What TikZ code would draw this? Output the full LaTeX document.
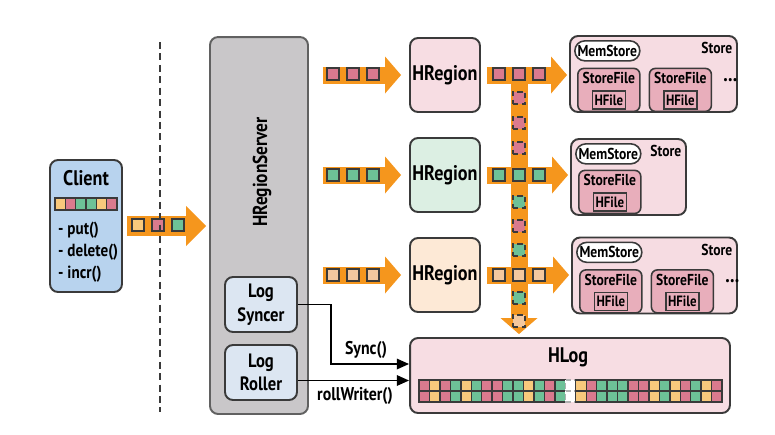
\documentclass[tikz,border=0pt]{standalone}
\usepackage{fontspec}
\setmainfont{PT Sans}[FakeStretch=0.86]
\usetikzlibrary{positioning,arrows.meta}

\definecolor{flow}{HTML}{F5961D}
\definecolor{edge}{HTML}{3A3A3A}
\definecolor{srvFill}{HTML}{C9C7C9}
\definecolor{cliFill}{HTML}{B8D3EE}
\definecolor{logFill}{HTML}{DCE6F2}
\definecolor{regP}{HTML}{F7DDE3}
\definecolor{regG}{HTML}{DCEFE3}
\definecolor{regO}{HTML}{FDE9D6}
\definecolor{stFill}{HTML}{F6DCE2}
\definecolor{sfFill}{HTML}{E8AEBB}
\definecolor{sqP}{HTML}{DA7A8E}
\definecolor{sqY}{HTML}{F8C97C}
\definecolor{sqG}{HTML}{6DC197}
\definecolor{sqO}{HTML}{F4C89E}

\tikzset{
  title/.style={font=\bfseries\fontsize{12}{14}\selectfont},
  small/.style={font=\bfseries\fontsize{9}{10}\selectfont},
  box/.style={draw=edge, line width=1.1pt, rounded corners=0.16cm, inner sep=0pt},
  server/.style={box, draw=edge!80, fill=srvFill, minimum width=1.96cm, minimum height=7.54cm},
  clientbox/.style={box, fill=cliFill, minimum width=1.44cm, minimum height=2.64cm},
  logbox/.style={box, fill=logFill, minimum width=1.44cm, minimum height=1.1cm,
    align=center, font=\bfseries\fontsize{11}{13.5}\selectfont},
  region/.style={box, minimum width=1.4cm, minimum height=1.48cm, title},
  store/.style={box, fill=stFill, minimum height=1.52cm,
    label={[anchor=north east, inner sep=0pt, xshift=-3pt, yshift=-4pt, small]north east:Store}},
  mem/.style={box, fill=white, rounded corners=0.2cm, line width=0.9pt,
    minimum width=1.3cm, minimum height=0.4cm, small},
  sfile/.style={box, fill=sfFill, line width=0.9pt, rounded corners=0.12cm,
    minimum width=1.24cm, minimum height=0.86cm,
    label={[anchor=north, inner sep=0pt, yshift=-2.5pt, small]north:StoreFile}},
  hfile/.style={draw=edge, fill=sfFill, line width=0.8pt, inner sep=0pt,
    minimum width=0.66cm, minimum height=0.36cm, font=\bfseries\fontsize{8.5}{9}\selectfont},
  hlogbox/.style={box, fill=regP, minimum width=6.4cm, minimum height=1.5cm},
  fatarrow/.style={draw=flow, line width=0.34cm,
    -{Triangle[length=0.32cm,width=0.74cm,line width=0pt]}},
  cell/.style={draw=edge, line width=0.8pt, inner sep=0pt},
  pkt/.style={cell, line width=1.1pt, minimum size=0.24cm},
  wpkt/.style={pkt, densely dashed},
  pkP/.style={fill=sqP}, pkY/.style={fill=sqY}, pkG/.style={fill=sqG},
  pkO/.style={fill=sqO}, pkW/.style={fill=white, draw=edge!40, densely dashed},
  conn/.style={draw=black, line width=0.9pt, -{Triangle[length=7pt,width=6pt]}},
  lbl/.style={font=\bfseries\fontsize{10.5}{12}\selectfont},
}

\begin{document}
\begin{tikzpicture}[x=0.02cm, y=-0.02cm]
\useasboundingbox (0,0) rectangle (775,434);

% region server
\node[server] (hrs) at (259,225.5) {};
\node[rotate=90, font=\bfseries\fontsize{11.5}{13}\selectfont] (hrsname) at (262,172) {HRegionServer};
\node[logbox] (syncer) at (261,304.5) {Log\\Syncer};
\node[logbox] (roller) at (261,372.5) {Log\\Roller};

% client
\node[clientbox] (client) at (86,226) {};
\node[title] (cname) at (86,178) {Client};
\foreach \c [count=\i] in {Y,P,G,G,Y,P}
  \node[cell, pk\c, minimum width=0.206cm, minimum height=0.24cm] (cc\i) at (49.8+10.33*\i,204) {};
\node[anchor=north west, align=left, font=\bfseries\fontsize{10}{12.5}\selectfont] (cmeth) at (52,216)
  {- put()\\- delete()\\- incr()};

% regions
\node[region, fill=regP] (hr1) at (445,75) {HRegion};
\node[region, fill=regG] (hr2) at (445,175) {HRegion};
\node[region, fill=regO] (hr3) at (445,275) {HRegion};

% stores
\node[store, minimum width=3.34cm] (st1) at (653.5,74) {};
\node[mem, below right=0.1cm and 0.1cm of st1.north west] (ms1) {MemStore};
\node[sfile, below right=0.12cm and 0.06cm of ms1.south west] (sf11) {};
\node[hfile, above=0.05cm of sf11.south] (hf11) {HFile};
\node[sfile, right=0.16cm of sf11] (sf12) {};
\node[hfile, above=0.05cm of sf12.south] (hf12) {HFile};
\node[title, right=0.1cm of sf12, yshift=0.2cm] (dots1) {...};

\node[store, minimum width=2.3cm] (st2) at (628.5,177) {};
\node[mem, below right=0.1cm and 0.1cm of st2.north west] (ms2) {MemStore};
\node[sfile, below right=0.1cm and 0.06cm of ms2.south west] (sf21) {};
\node[hfile, above=0.05cm of sf21.south] (hf21) {HFile};

\node[store, minimum width=3.3cm] (st3) at (654.5,275.5) {};
\node[mem, below right=0.1cm and 0.1cm of st3.north west] (ms3) {MemStore};
\node[sfile, below right=0.12cm and 0.06cm of ms3.south west] (sf31) {};
\node[hfile, above=0.05cm of sf31.south] (hf31) {HFile};
\node[sfile, right=0.16cm of sf31] (sf32) {};
\node[hfile, above=0.05cm of sf32.south] (hf32) {HFile};
\node[title, right=0.1cm of sf32, yshift=0.2cm] (dots3) {...};

% write-ahead log
\node[hlogbox] (hlog) at (570,375.5) {};
\node[title] (hlogname) at (568,357) {HLog};
\foreach \c [count=\i] in {P,Y,P,G,Y,G,P,P,G,G,Y,G,P,G,W,Y,P,G,G,G,P,P,Y,G,Y,P,G,Y,P} {
  \node[cell, pk\c, minimum width=0.209cm, minimum height=0.22cm] (la\i) at (413.8+10.45*\i,385.5) {};
  \node[cell, pk\c, minimum width=0.209cm, minimum height=0.22cm] (lb\i) at (413.8+10.45*\i,396.5) {};
}

% data flow
\coordinate (walTop) at (519,70);
\draw[fatarrow, shorten >=0.06cm] (walTop) -- (walTop |- hlog.north);
\draw[fatarrow, line width=0.4cm, -{Triangle[length=0.4cm,width=0.8cm,line width=0pt]},
  shorten <=0.08cm, shorten >=0.06cm] (client) -- (client -| hrs.west);
\foreach \r in {1,2,3} {
  \draw[fatarrow, shorten <=0.28cm, shorten >=0.16cm] (hr\r -| hrs.east) -- (hr\r);
  \draw[fatarrow, shorten <=0.12cm, shorten >=0.04cm] (hr\r) -- (hr\r -| st\r.west);
}
\foreach \c [count=\i] in {Y,P,G}
  \node[pkt, pk\c] (cp\i) at (118+20*\i,225) {};
\foreach \c/\y [count=\i] in {P/74,G/175,O/275} {
  \foreach \k in {1,2,3} {
    \node[pkt, pk\c] (ip\i\k) at (313+20*\k,\y) {};
    \node[pkt, pk\c] (op\i\k) at (479+20*\k,\y) {};
  }
}
\foreach \c/\y [count=\i] in {P/98,P/123,P/148,G/202,P/226,G/250,G/298,O/321}
  \node[wpkt, pk\c] (wp\i) at (519,\y) {};

% log calls
\draw[conn] (syncer.east) -- ++(0.66cm,0) |- ([yshift=0.23cm]hlog.west);
\coordinate (rollout) at ([yshift=-0.16cm]roller.east);
\draw[conn] (rollout) -- (rollout -| hlog.west);
\node[lbl] (synclbl) at (366,350) {Sync()};
\node[lbl] (rolllbl) at (355,396) {rollWriter()};

% client / server divide
\draw[edge, line width=1.2pt, dash pattern=on 4pt off 2.5pt] (160,42) -- (160,412);
\end{tikzpicture}
\end{document}
